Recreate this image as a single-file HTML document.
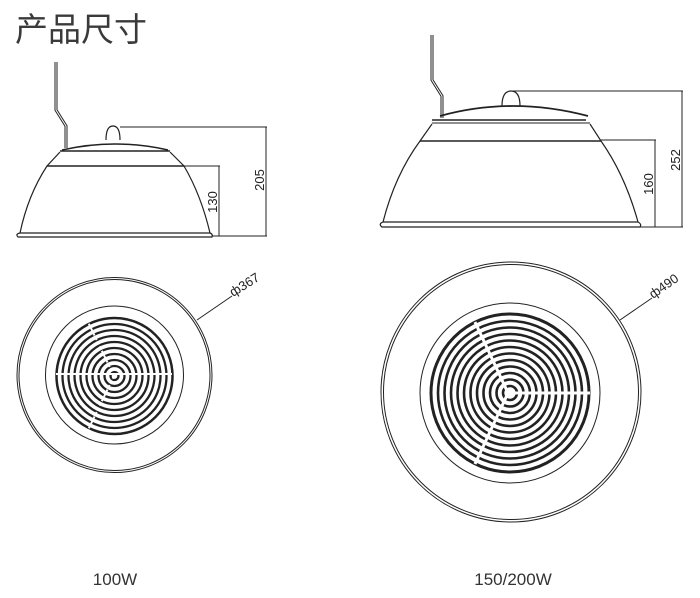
<!DOCTYPE html>
<html><head><meta charset="utf-8"><style>
html,body{margin:0;padding:0;background:#fff;}
svg{display:block}
</style></head><body>
<svg width="700" height="598" viewBox="0 0 700 598" xmlns="http://www.w3.org/2000/svg">
<rect width="700" height="598" fill="#fff"/>
<text x="15" y="41" font-family="Liberation Sans, Noto Sans CJK SC, sans-serif" font-size="33" fill="#3a3a3a">产品尺寸</text>

<!-- LEFT SIDE VIEW -->
<g fill="none" stroke="#222" stroke-width="1.2">
  <path d="M56 62 V110 L66 126 V148" stroke-width="3"/>
  <path d="M56 62 V110 L66 126 V148" stroke="#fff" stroke-width="1"/>
  <path d="M106 140 Q106 126 113 126 Q120 126 120 140"/>
  <path d="M62 150 Q115 138 168 150" stroke-width="1.5"/>
  <line x1="60" y1="151" x2="170" y2="151" stroke-width="1.5"/>
  <path d="M60 152 L47 166 Q28 195 20 233"/>
  <path d="M170 152 L184 166 Q201 195 210 233"/>
  <line x1="47" y1="166" x2="184" y2="166" stroke-width="1.5"/>
  <path d="M20 233 H210 Q213 234 212 237 H18 Q15 234 20 233 Z"/>
  <line x1="120" y1="127" x2="267" y2="127" stroke-width="1"/>
  <line x1="266" y1="127" x2="266" y2="236" stroke-width="1"/>
  <line x1="184" y1="166" x2="220" y2="166" stroke-width="1"/>
  <line x1="219" y1="166" x2="219" y2="236" stroke-width="1"/>
  <line x1="212" y1="236" x2="267" y2="236" stroke-width="1"/>
</g>
<text transform="translate(264,180) rotate(-90)" text-anchor="middle" font-family="Liberation Sans, sans-serif" font-size="13" fill="#222">205</text>
<text transform="translate(217,202) rotate(-90)" text-anchor="middle" font-family="Liberation Sans, sans-serif" font-size="13" fill="#222">130</text>

<!-- RIGHT SIDE VIEW -->
<g fill="none" stroke="#222" stroke-width="1.2">
  <path d="M432 35 V80 L442 96 V118" stroke-width="3"/>
  <path d="M432 35 V80 L442 96 V118" stroke="#fff" stroke-width="1"/>
  <path d="M502 106 Q502 91 511 91 Q520 91 520 106"/>
  <path d="M440 116 Q512 96 588 116" stroke-width="1.8"/>
  <line x1="432" y1="120" x2="586" y2="120" stroke-width="1.5"/>
  <line x1="432" y1="123" x2="590" y2="123" stroke-width="1"/>
  <path d="M432 124 L420 141 Q395 175 383 222"/>
  <path d="M590 124 L601 141 Q625 175 638 222"/>
  <line x1="420" y1="141" x2="601" y2="141" stroke-width="1.5"/>
  <path d="M383 222 H638 Q642 224 640 227 H382 Q378 224 383 222 Z"/>
  <line x1="510" y1="91" x2="683" y2="91" stroke-width="1"/>
  <line x1="682" y1="91" x2="682" y2="227" stroke-width="1"/>
  <line x1="601" y1="140" x2="656" y2="140" stroke-width="1"/>
  <line x1="655" y1="140" x2="655" y2="227" stroke-width="1"/>
  <line x1="640" y1="227" x2="683" y2="227" stroke-width="1"/>
</g>
<text transform="translate(680,160) rotate(-90)" text-anchor="middle" font-family="Liberation Sans, sans-serif" font-size="13" fill="#222">252</text>
<text transform="translate(653,184) rotate(-90)" text-anchor="middle" font-family="Liberation Sans, sans-serif" font-size="13" fill="#222">160</text>

<!-- LEFT TOP VIEW -->
<g fill="none" stroke="#222">
  <circle cx="114.5" cy="375" r="97.5" stroke-width="1"/>
  <circle cx="114.5" cy="375" r="95.5" stroke-width="1"/>
  <circle cx="114.5" cy="375" r="69" stroke-width="1"/>
  <circle cx="114.5" cy="376" r="58" stroke-width="2.5"/>
  <g stroke-width="2.3">
    <circle cx="114.5" cy="376" r="52"/><circle cx="114.5" cy="376" r="46"/>
    <circle cx="114.5" cy="376" r="40"/><circle cx="114.5" cy="376" r="34"/>
    <circle cx="114.5" cy="376" r="28"/><circle cx="114.5" cy="376" r="22"/>
    <circle cx="114.5" cy="376" r="16"/><circle cx="114.5" cy="376" r="10"/>
    <circle cx="114.5" cy="376" r="4"/>
  </g>
  <line x1="56" y1="374" x2="172" y2="374" stroke="#fff" stroke-width="2"/>
  <line x1="114" y1="376" x2="88" y2="322" stroke="#fff" stroke-width="2" stroke-dasharray="3 2"/>
  <line x1="114" y1="376" x2="88" y2="430" stroke="#fff" stroke-width="2" stroke-dasharray="3 2"/>
  <line x1="197" y1="320" x2="232" y2="296" stroke-width="1"/>
</g>
<text transform="translate(233,297) rotate(-32)" font-family="Liberation Sans, sans-serif" font-size="13" fill="#222">ф367</text>

<!-- RIGHT TOP VIEW -->
<g fill="none" stroke="#222">
  <circle cx="511" cy="392" r="130" stroke-width="1"/>
  <circle cx="511" cy="392" r="127.5" stroke-width="1"/>
  <circle cx="510" cy="393" r="90" stroke-width="1"/>
  <circle cx="510" cy="393" r="79" stroke-width="3"/>
  <g stroke-width="2.6">
    <circle cx="510" cy="393" r="72"/><circle cx="510" cy="393" r="65.5"/>
    <circle cx="510" cy="393" r="59"/><circle cx="510" cy="393" r="52.5"/>
    <circle cx="510" cy="393" r="46"/><circle cx="510" cy="393" r="39.5"/>
    <circle cx="510" cy="393" r="33"/><circle cx="510" cy="393" r="26.5"/>
    <circle cx="510" cy="393" r="20"/><circle cx="510" cy="393" r="13.5"/>
    <circle cx="510" cy="393" r="7"/>
  </g>
  <line x1="510" y1="393" x2="590" y2="393" stroke="#fff" stroke-width="3"/>
  <line x1="508" y1="393" x2="475" y2="322" stroke="#fff" stroke-width="3"/>
  <line x1="508" y1="393" x2="475" y2="464" stroke="#fff" stroke-width="3"/>
  <line x1="620" y1="320" x2="652" y2="298" stroke-width="1"/>
</g>
<text transform="translate(653,299) rotate(-35)" font-family="Liberation Sans, sans-serif" font-size="13" fill="#222">ф490</text>

<text x="115" y="585" text-anchor="middle" font-family="Liberation Sans, sans-serif" font-size="17" fill="#333">100W</text>
<text x="513" y="585" text-anchor="middle" font-family="Liberation Sans, sans-serif" font-size="17" fill="#333">150/200W</text>
</svg>
</body></html>
